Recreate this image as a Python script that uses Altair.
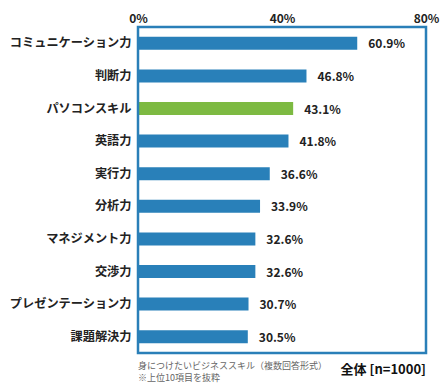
import altair as alt
import pandas as pd

skills = ["コミュニケーション力", "判断力", "パソコンスキル", "英語力", "実行力",
          "分析力", "マネジメント力", "交渉力", "プレゼンテーション力", "課題解決力"]
values = [60.9, 46.8, 43.1, 41.8, 36.6, 33.9, 32.6, 32.6, 30.7, 30.5]
highlight = [False, False, True, False, False, False, False, False, False, False]
x_ticks = [0, 40, 80]
note_lines = ["身につけたいビジネススキル（複数回答形式）", "※上位10項目を抜粋"]
total_label = "全体 [n=1000]"

FONT = "Noto Sans CJK JP"
BLUE = "#2980b9"
GREEN = "#7dba42"
FRAME = "#2a7fb8"

df = pd.DataFrame({"skill": skills, "value": values, "hl": highlight})
df["label"] = df["value"].map(lambda v: f"{v:.1f}%")

W, H = 288, 326

x_enc = alt.X("value:Q", scale=alt.Scale(domain=[0, 80], nice=False),
              axis=alt.Axis(orient="top", values=x_ticks, labelExpr="datum.value + '%'",
                            title=None, grid=False, domain=False, ticks=False, labelFlush=False,
                            labelFont=FONT, labelFontSize=12, labelFontWeight="bold",
                            labelColor="#222", labelPadding=2))
y_enc = alt.Y("skill:N", sort=skills,
              scale=alt.Scale(paddingInner=0.6, paddingOuter=0.3),
              axis=alt.Axis(title=None, domain=False, ticks=False,
                            labelFont=FONT, labelFontSize=12.2, labelFontWeight="bold",
                            labelColor="#222", labelPadding=7, labelLimit=200))

frame = alt.Chart(pd.DataFrame({"a": [0]})).mark_rect(
    fill=None, stroke=FRAME, strokeWidth=2.5).encode(
    x=alt.value(0), x2=alt.value(W), y=alt.value(0), y2=alt.value(H))

bars = alt.Chart(df).mark_bar().encode(
    x=x_enc, y=y_enc,
    color=alt.Color("hl:N", scale=alt.Scale(domain=[False, True], range=[BLUE, GREEN]), legend=None),
)

labels = alt.Chart(df).mark_text(align="left", baseline="middle", dx=11, dy=1,
                                 font=FONT, fontSize=12, fontWeight="bold", color="#222").encode(
    x=alt.X("value:Q"), y=alt.Y("skill:N", sort=skills), text="label:N")

note1 = alt.Chart(pd.DataFrame({"t": [note_lines[0]]})).mark_text(
    align="left", baseline="middle", font=FONT, fontSize=9, color="#666").encode(
    x=alt.value(0), y=alt.value(H + 13), text="t:N")
note2 = alt.Chart(pd.DataFrame({"t": [note_lines[1]]})).mark_text(
    align="left", baseline="middle", font=FONT, fontSize=9, color="#666").encode(
    x=alt.value(0), y=alt.value(H + 25), text="t:N")

total = alt.Chart(pd.DataFrame({"t": [total_label]})).mark_text(
    align="right", baseline="middle", font=FONT, fontSize=13, fontWeight="bold", color="#111").encode(
    x=alt.value(W), y=alt.value(H + 17), text="t:N")

chart = alt.layer(bars, labels, frame, note1, note2, total).properties(
    width=W, height=H,
    autosize=alt.AutoSizeParams(type="none"),
    padding={"left": 130, "top": 19, "right": 14, "bottom": 30},
).configure(background="white").configure_view(strokeWidth=0)

chart.save("out.html", embed_options={"renderer": "svg", "actions": False})
